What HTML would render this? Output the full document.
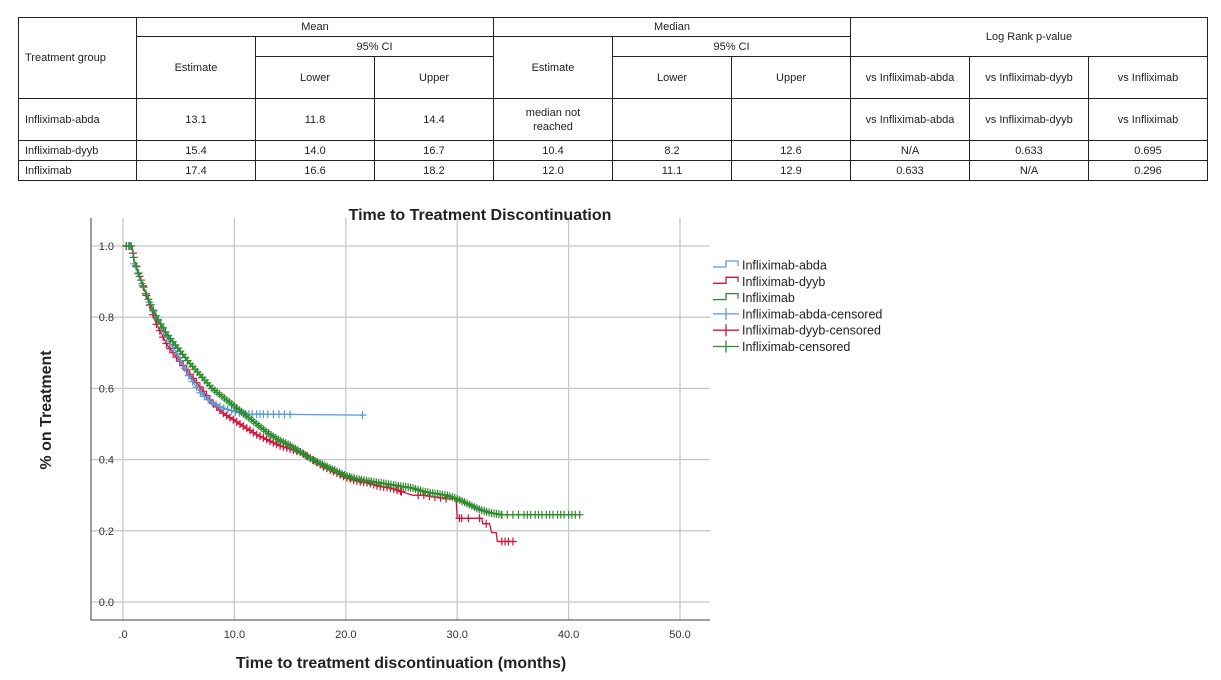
<!DOCTYPE html>
<html><head><meta charset="utf-8"><style>
body{margin:0;width:1221px;height:680px;background:#fff;overflow:hidden;position:relative;font-family:"Liberation Sans",sans-serif}
table{position:absolute;left:18px;top:17px;border-collapse:collapse;font-size:11px;color:#222}
td{border:1.5px solid #222;text-align:center;padding:0;line-height:14px}
td.l{text-align:left;padding-left:6px}
</style></head><body>
<table>
<colgroup><col style="width:118px"><col style="width:119px"><col style="width:119px"><col style="width:119px"><col style="width:119px"><col style="width:119px"><col style="width:119px"><col style="width:119px"><col style="width:119px"><col style="width:119px"></colgroup>
<tr style="height:19px"><td class="l" rowspan="3">Treatment group</td><td colspan="3">Mean</td><td colspan="3">Median</td><td colspan="3" rowspan="2">Log Rank p-value</td></tr>
<tr style="height:20px"><td rowspan="2">Estimate</td><td colspan="2">95% CI</td><td rowspan="2">Estimate</td><td colspan="2">95% CI</td></tr>
<tr style="height:42px"><td>Lower</td><td>Upper</td><td>Lower</td><td>Upper</td><td>vs Infliximab-abda</td><td>vs Infliximab-dyyb</td><td>vs Infliximab</td></tr>
<tr style="height:42px"><td class="l">Infliximab-abda</td><td>13.1</td><td>11.8</td><td>14.4</td><td>median not<br>reached</td><td></td><td></td><td>vs Infliximab-abda</td><td>vs Infliximab-dyyb</td><td>vs Infliximab</td></tr>
<tr style="height:20px"><td class="l">Infliximab-dyyb</td><td>15.4</td><td>14.0</td><td>16.7</td><td>10.4</td><td>8.2</td><td>12.6</td><td>N/A</td><td>0.633</td><td>0.695</td></tr>
<tr style="height:20px"><td class="l">Infliximab</td><td>17.4</td><td>16.6</td><td>18.2</td><td>12.0</td><td>11.1</td><td>12.9</td><td>0.633</td><td>N/A</td><td>0.296</td></tr>
</table>
<svg id="chart" width="1221" height="680" style="position:absolute;left:0;top:0" font-family="Liberation Sans, sans-serif"></svg>
<script>
const xTicks=[0,10,20,30,40,50];
const xTickLabels=[".0","10.0","20.0","30.0","40.0","50.0"];
const yTicks=[0,0.2,0.4,0.6,0.8,1.0];
const yTickLabels=["0.0","0.2","0.4","0.6","0.8","1.0"];
const seriesNames=["Infliximab-abda","Infliximab-dyyb","Infliximab"];
const seriesColors=["#5b9bd5","#d2143c","#2e8b2e"];
const abdaT=[0,0.8,1,2,3,4,5,6,7,8,9,10,11,21.5];
const abdaS=[1.0,1.0,0.95,0.87,0.80,0.74,0.69,0.63,0.585,0.56,0.545,0.535,0.528,0.525];
const dyybT=[0,0.8,1,2,3,4,5,6,7,8,9,10,11,12,13,14,15,16,17,18,19,20,21,22,23,24,25,26,27,28,29,29.9,30,32.2,32.3,32.9,33.1,33.5,33.6,35];
const dyybS=[1.0,1.0,0.96,0.87,0.78,0.72,0.68,0.64,0.60,0.56,0.53,0.51,0.49,0.47,0.455,0.44,0.43,0.42,0.40,0.38,0.365,0.35,0.34,0.335,0.325,0.32,0.31,0.30,0.30,0.295,0.29,0.29,0.235,0.235,0.22,0.22,0.195,0.195,0.17,0.17];
const inflT=[0,0.8,1,2,3,4,5,6,7,8,9,10,11,12,13,14,15,16,17,18,19,20,21,22,23,24,25,26,27,28,29,30,31,32,33,34,41];
const inflS=[1.0,1.0,0.96,0.87,0.80,0.75,0.71,0.67,0.635,0.60,0.575,0.55,0.525,0.50,0.475,0.455,0.44,0.42,0.40,0.385,0.37,0.355,0.345,0.34,0.335,0.33,0.325,0.32,0.31,0.305,0.30,0.29,0.275,0.26,0.25,0.245,0.245];
const abdaCensT=[11,11.3,11.6,12,12.3,12.6,13,13.5,14,14.5,15,21.5];
const dyybCensT=[25,26.5,27,27.5,28,28.5,29,30.2,30.4,31,32,32.6,34,34.3,34.6,35];
const inflCensT=[34,34.5,35,35.5,36,36.3,36.6,37,37.3,37.6,38,38.3,38.6,39,39.3,39.6,40,40.3,40.6,41];
const svg=document.getElementById('chart');
const NS='http://www.w3.org/2000/svg';
const X0=123,XS=(680-123)/50,Y0=602,YS=356;
const xs=v=>X0+v*XS, ys=v=>Y0-v*YS;
function mk(t,a,p){const e=document.createElementNS(NS,t);for(const k in a)e.setAttribute(k,a[k]);(p||svg).appendChild(e);return e;}
let e;
xTicks.forEach((v,i)=>{
 e=mk('line',{x1:xs(v),x2:xs(v),y1:218,y2:620,stroke:'#c8c8c8','stroke-width':1.3});
 
 e=mk('text',{x:xs(v),y:638,'font-size':11,'text-anchor':'middle',fill:'#333'});e.textContent=xTickLabels[i];
 
});
yTicks.forEach((v,i)=>{
 e=mk('line',{x1:91,x2:710,y1:ys(v),y2:ys(v),stroke:'#c8c8c8','stroke-width':1.3});
 
 e=mk('text',{x:114,y:ys(v)+4,'font-size':11,'text-anchor':'end',fill:'#333'});e.textContent=yTickLabels[i];
 
});
e=mk('path',{d:'M91,218V620H710',fill:'none',stroke:'#666','stroke-width':1.3});

function linePath(T,S){return T.map((t,i)=>(i?'L':'M')+xs(t).toFixed(1)+','+ys(S[i]).toFixed(1)).join('');}
function survAt(T,S,t){for(let i=1;i<T.length;i++){if(T[i]>=t){const f=(t-T[i-1])/(T[i]-T[i-1]||1);return S[i-1]+(S[i]-S[i-1])*f;}}return S[S.length-1];}
function cross(x,y,c,name){e=mk('path',{d:`M${(x-4).toFixed(1)},${y.toFixed(1)}h8M${x.toFixed(1)},${(y-4).toFixed(1)}v8`,stroke:c,'stroke-width':1.2});
 }
const all=[[abdaT,abdaS,abdaCensT],[dyybT,dyybS,dyybCensT],[inflT,inflS,inflCensT]];
const spacing=[0.35,0.3,0.22];
const denseEnd=[11,25,34];
[1,0,2].forEach(k=>{const [T,S,C]=all[k];const c=seriesColors[k];
 e=mk('path',{d:linePath(T,S),fill:'none',stroke:c,'stroke-width':1.3});
 
 for(let t=0.3;t<=denseEnd[k];t+=spacing[k]){cross(xs(t),ys(survAt(T,S,t)),c,'censor-mark');}
 C.forEach(t=>cross(xs(t),ys(survAt(T,S,t)),c,'censor-mark'));
});
e=mk('text',{x:480,y:220,'font-size':16,'font-weight':'bold','text-anchor':'middle',fill:'#222'});e.textContent='Time to Treatment Discontinuation';

e=mk('text',{x:401,y:668,'font-size':16,'font-weight':'bold','text-anchor':'middle',fill:'#222'});e.textContent='Time to treatment discontinuation (months)';

e=mk('text',{x:0,y:0,'font-size':16,'font-weight':'bold','text-anchor':'middle',fill:'#222',transform:'translate(51,410) rotate(-90)'});e.textContent='% on Treatment';

const legendLabels=["Infliximab-abda","Infliximab-dyyb","Infliximab","Infliximab-abda-censored","Infliximab-dyyb-censored","Infliximab-censored"];
legendLabels.forEach((lab,i)=>{const y=265+i*16.3;const c=seriesColors[i%3];
 if(i<3){e=mk('path',{d:`M713,${y+2}h13v-6h12v5`,fill:'none',stroke:c,'stroke-width':1.3});}
 else{e=mk('path',{d:`M713,${y}h26M726,${y-6}v12`,fill:'none',stroke:c,'stroke-width':1.3});}
 
 e=mk('text',{x:742,y:y+4.5,'font-size':12.5,fill:'#222'});e.textContent=lab;
 
});
</script>
</body></html>
